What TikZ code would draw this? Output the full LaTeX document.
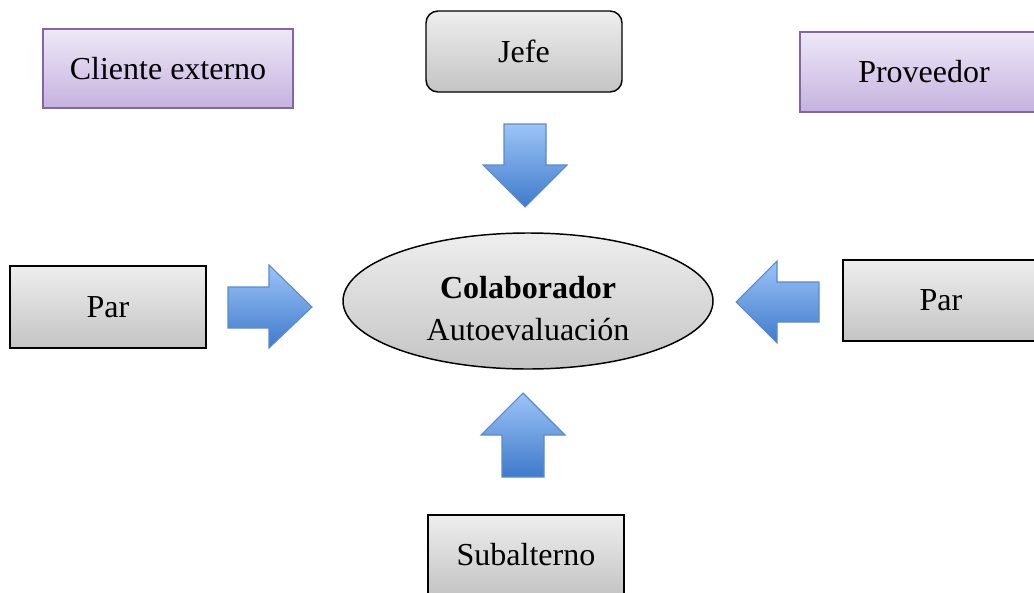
\documentclass[tikz,border=0pt]{standalone}
\usepackage{fontspec}
\setmainfont{Liberation Serif}
\usetikzlibrary{shapes.geometric}
\definecolor{boxtop}{HTML}{EEEEEE}
\definecolor{boxbot}{HTML}{C4C4C4}
\definecolor{lilatop}{HTML}{EEE8F7}
\definecolor{lilabot}{HTML}{C6B2DF}
\definecolor{lilaline}{HTML}{8466A8}
\definecolor{arrtop}{HTML}{9CC4F7}
\definecolor{arrbot}{HTML}{3F7ACB}
\definecolor{arrline}{HTML}{5A8ACB}
\tikzset{
  graybox/.style={draw=black, line width=1.1pt, top color=boxtop, bottom color=boxbot,
    minimum width=147pt, minimum height=60.75pt, inner sep=0pt, font=\fontsize{24}{28}\selectfont},
  lilabox/.style={draw=lilaline, line width=1.1pt, top color=lilatop, bottom color=lilabot,
    minimum width=187.5pt, minimum height=59.25pt, inner sep=0pt, font=\fontsize{24}{28}\selectfont},
  blockarrow/.style={draw=arrline, line width=0.8pt, top color=arrtop, bottom color=arrbot}
}
\begin{document}
\begin{tikzpicture}[x=0.75pt, y=-0.75pt]
  \useasboundingbox (0,0) rectangle (1034,592);

  % outer roles
  \node[lilabox] (cliente) at (168,68.5) {Cliente externo};
  \node[lilabox, minimum width=186pt, minimum height=60pt] (proveedor) at (924,72) {Proveedor};
  \node[graybox, rounded corners=9pt] (jefe) at (524,51.5) {Jefe};
  \node[graybox, minimum height=61.5pt] (parizq) at (108,307) {Par};
  \node[graybox] (parder) at (941,300.5) {Par};
  \node[graybox, minimum height=60pt] (subalterno) at (526,555) {Subalterno};

  % central evaluated person
  \node[ellipse, draw=black, line width=1.1pt, top color=boxtop, bottom color=boxbot,
        minimum width=277.5pt, minimum height=102pt, inner sep=0pt] (colab) at (528,301) {};
  \node[align=center, font=\fontsize{24}{31.5}\selectfont] (colabtxt) at ([yshift=-5.5pt]colab.center)
        {\textbf{Colaborador}\\Autoevaluación};

  % block arrows pointing at the centre
  \draw[blockarrow] (504,124) -- (546,124) -- (546,165) -- (567,165) -- (525,207)
        -- (483,165) -- (504,165) -- cycle;
  \draw[blockarrow] (502,477) -- (544,477) -- (544,435) -- (565,435) -- (523,393)
        -- (481,435) -- (502,435) -- cycle;
  \draw[blockarrow] (228,287) -- (269,287) -- (269,265) -- (312,307) -- (269,348)
        -- (269,328) -- (228,328) -- cycle;
  \draw[blockarrow] (819,282) -- (777,282) -- (777,261) -- (736,302) -- (777,343)
        -- (777,322) -- (819,322) -- cycle;
\end{tikzpicture}
\end{document}
